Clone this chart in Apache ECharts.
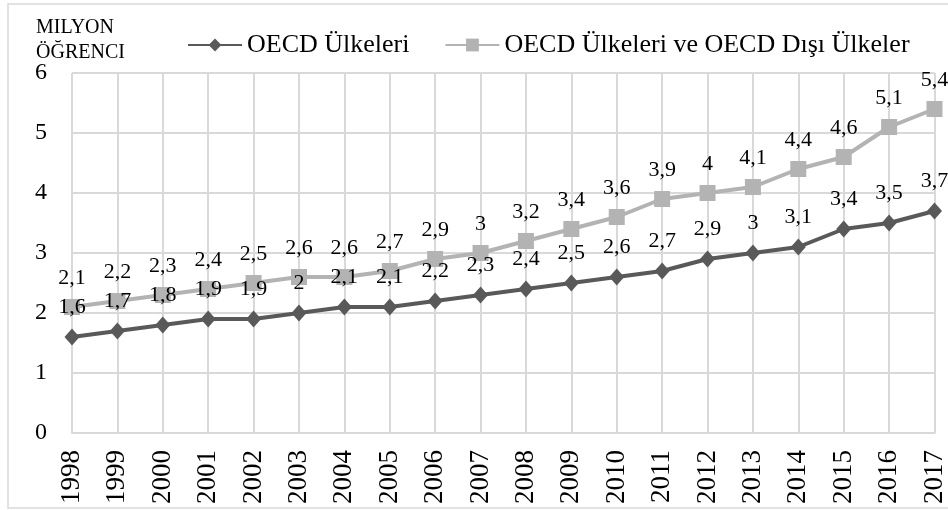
<!DOCTYPE html>
<html>
<head>
<meta charset="utf-8">
<script src="https://cdn.jsdelivr.net/npm/echarts@6/dist/echarts.min.js"></script>
<style>
  html, body { margin: 0; padding: 0; background: #fff; }
</style>
</head>
<body>
<div id="chart" style="width: 948px; height: 510px"></div>
<script>
// yıllar
const years = ['1998', '1999', '2000', '2001', '2002', '2003', '2004', '2005', '2006', '2007',
    '2008', '2009', '2010', '2011', '2012', '2013', '2014', '2015', '2016', '2017']
// milyon öğrenci
const oecd = [1.6, 1.7, 1.8, 1.9, 1.9, 2, 2.1, 2.1, 2.2, 2.3, 2.4, 2.5, 2.6, 2.7, 2.9, 3, 3.1, 3.4, 3.5, 3.7]
const oecdAndNonOecd = [2.1, 2.2, 2.3, 2.4, 2.5, 2.6, 2.6, 2.7, 2.9, 3, 3.2, 3.4, 3.6, 3.9, 4, 4.1, 4.4, 4.6, 5.1, 5.4]
const seriesNames = ['OECD Ülkeleri', 'OECD Ülkeleri ve OECD Dışı Ülkeler']
const yTicks = [0, 1, 2, 3, 4, 5, 6]

const FONT = '"Liberation Serif", "Times New Roman", serif'
const gridColor = '#d9d9d9'

// değer etiketleri (virgüllü)
const labelOpt = {
    show: true,
    position: 'top',
    distance: 10,
    color: '#000',
    fontFamily: FONT,
    fontSize: 22,
    formatter: p => String(p.value).replace('.', ',')
}

const chart = echarts.init(document.getElementById('chart'))
chart.setOption({
    animation: false,
    textStyle: { fontFamily: FONT },
    graphic: [{
        type: 'rect',
        shape: { x: 8, y: 4, width: 960, height: 504 },
        style: { fill: 'none', stroke: '#d9d9d9', lineWidth: 1.5 },
        silent: true
    }],
    title: {
        text: 'MILYON\nÖĞRENCI',
        left: 31,
        top: 10,
        textStyle: {
            fontFamily: FONT,
            fontSize: 20,
            fontWeight: 'normal',
            color: '#000',
            lineHeight: 25
        }
    },
    legend: {
        left: 182,
        top: 27,
        itemWidth: 54,
        itemHeight: 16,
        itemGap: 35,
        textStyle: { fontFamily: FONT, fontSize: 26, color: '#000' },
        data: seriesNames
    },
    grid: { left: 72, right: 8, top: 73, bottom: 77, containLabel: false },
    xAxis: {
        type: 'category',
        data: years,
        boundaryGap: false,
        axisLine: { lineStyle: { color: gridColor, width: 2 } },
        axisTick: { show: false },
        axisLabel: {
            rotate: 90,
            margin: 17,
            color: '#000',
            fontFamily: FONT,
            fontSize: 27
        },
        splitLine: { show: true, lineStyle: { color: gridColor, width: 2 } }
    },
    yAxis: {
        type: 'value',
        min: yTicks[0],
        max: yTicks[yTicks.length - 1],
        interval: 1,
        axisLine: { show: false },
        axisTick: { show: false },
        axisLabel: {
            margin: 25,
            color: '#000',
            fontFamily: FONT,
            fontSize: 24,
            padding: [6, 0, 0, 0]
        },
        splitLine: { lineStyle: { color: gridColor, width: 2 } }
    },
    series: [
        {
            name: seriesNames[1],
            type: 'line',
            data: oecdAndNonOecd,
            symbol: 'rect',
            symbolSize: 16,
            itemStyle: { color: '#b3b3b3' },
            lineStyle: { color: '#b3b3b3', width: 4 },
            label: labelOpt,
            z: 2
        },
        {
            name: seriesNames[0],
            type: 'line',
            data: oecd,
            symbol: 'diamond',
            symbolSize: [15, 17],
            itemStyle: { color: '#595959' },
            lineStyle: { color: '#595959', width: 4 },
            label: labelOpt,
            z: 3
        }
    ]
})
</script>
</body>
</html>
